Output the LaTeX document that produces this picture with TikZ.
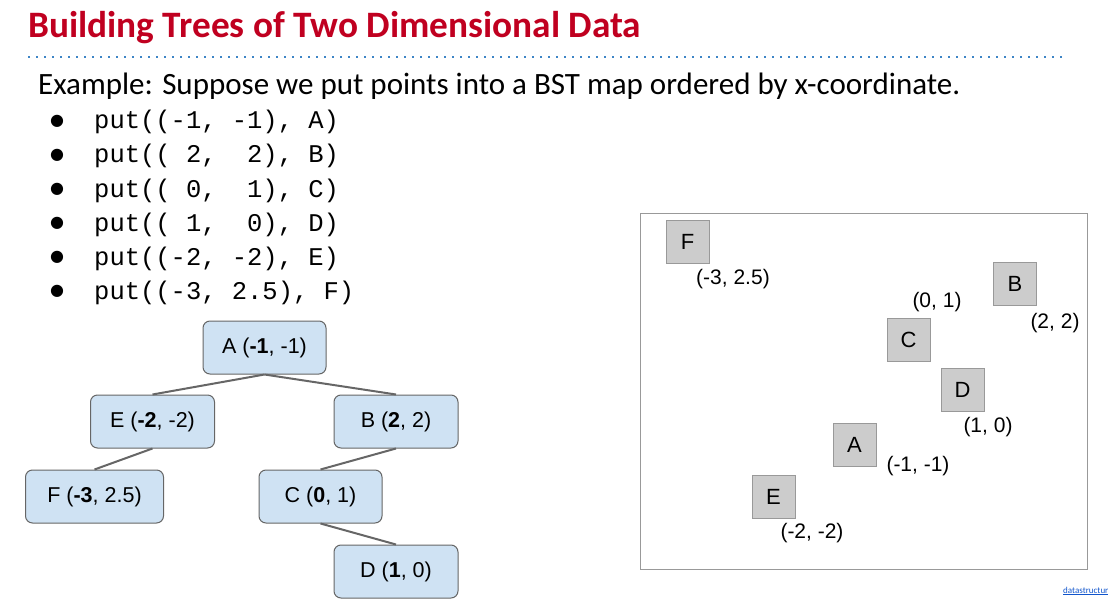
\documentclass[tikz,border=0pt]{standalone}
\usepackage{fontspec}
\setmainfont{Carlito}
\newfontfamily\arial{Liberation Sans}
\newfontfamily\mono{Liberation Mono}
\newfontfamily\dejavu{DejaVu Sans}
\definecolor{titlered}{RGB}{192,0,32}
\definecolor{dotblue}{RGB}{61,133,198}
\definecolor{treefill}{RGB}{207,226,243}
\definecolor{treeline}{RGB}{102,102,102}
\definecolor{sqfill}{RGB}{204,204,204}
\definecolor{sqline}{RGB}{153,153,153}
\definecolor{framegray}{RGB}{153,153,153}
\definecolor{linkblue}{RGB}{17,85,204}
\begin{document}
\begin{tikzpicture}[x=1pt,y=-1pt,
  treenode/.style={draw=treeline,fill=treefill,rounded corners=7pt,line width=1pt,
    minimum height=53pt,inner sep=0pt,font=\arial\fontsize{21.5}{25}\selectfont},
  treeedge/.style={draw=treeline,line width=2pt},
  sq/.style={draw=sqline,fill=sqfill,line width=1pt,minimum width=43pt,minimum height=43pt,
    inner sep=0pt,font=\arial\fontsize{22}{26}\selectfont},
  coord/.style={inner sep=0pt,font=\arial\fontsize{21}{25}\selectfont},
  bulletdot/.style={inner sep=0pt,font=\dejavu\fontsize{16}{18}\selectfont},
  codeline/.style={anchor=base west,inner sep=0pt,font=\mono\fontsize{25.5}{28}\selectfont}]
\useasboundingbox (0,0) rectangle (1109,599);
% title
\node[anchor=base west,inner sep=0pt,text=titlered,font=\bfseries\fontsize{37.3}{42}\selectfont] (title) at (28,38) {Building Trees of Two Dimensional Data};
\coordinate (dl) at (28,57);
\coordinate (dr) at (1062,57);
\draw[dotblue,line width=2pt,dash pattern=on 2pt off 6pt] (dl) -- (dr);
\node[anchor=base west,inner sep=0pt,font=\fontsize{31}{34}\selectfont] (ex) at (38,95) {Example: Suppose we put points into a BST map ordered by x-coordinate.};
% bullets
\node[bulletdot] (b0) at (57,121) {●};
\node[bulletdot] (b1) at (57,155) {●};
\node[bulletdot] (b2) at (57,189) {●};
\node[bulletdot] (b3) at (57,223) {●};
\node[bulletdot] (b4) at (57,257) {●};
\node[bulletdot] (b5) at (57,291) {●};
\node[codeline] (c0) at (94,129) {put((-1,\ -1),\ A)};
\node[codeline] (c1) at (94,163) {put((\ 2,\ \ 2),\ B)};
\node[codeline] (c2) at (94,197) {put((\ 0,\ \ 1),\ C)};
\node[codeline] (c3) at (94,231) {put((\ 1,\ \ 0),\ D)};
\node[codeline] (c4) at (94,265) {put((-2,\ -2),\ E)};
\node[codeline] (c5) at (94,299) {put((-3,\ 2.5),\ F)};
% tree
\node[treenode,minimum width=123pt] (A) at (264.5,347.5) {A (\textbf{-1}, -1)};
\node[treenode,minimum width=124pt] (E) at (152.5,421.5) {E (\textbf{-2}, -2)};
\node[treenode,minimum width=124pt] (B) at (396,421.5) {B (\textbf{2}, 2)};
\node[treenode,minimum width=138pt] (F) at (94.5,496.5) {F (\textbf{-3}, 2.5)};
\node[treenode,minimum width=123pt] (C) at (320.5,496.5) {C (\textbf{0}, 1)};
\node[treenode,minimum width=124pt] (D) at (396,571.5) {D (\textbf{1}, 0)};
\draw[treeedge] (A.south) -- (E.north);
\draw[treeedge] (A.south) -- (B.north);
\draw[treeedge] (E.south) -- (F.north);
\draw[treeedge] (B.south) -- (C.north);
\draw[treeedge] (C.south) -- (D.north);
% plane
\node[draw=framegray,line width=1pt,minimum width=447pt,minimum height=356pt,inner sep=0pt] (frame) at (863.5,391) {};
\node[sq] (pF) at (687.5,241.5) {F};
\node[sq] (pB) at (1015,283.5) {B};
\node[sq] (pC) at (908.5,339.5) {C};
\node[sq] (pD) at (962.5,389.5) {D};
\node[sq] (pA) at (854.5,444.5) {A};
\node[sq] (pE) at (773.5,496.5) {E};
\node[coord] (lF) at (733,279) {(-3, 2.5)};
\node[coord] (lC) at (937,302) {(0, 1)};
\node[coord] (lB) at (1055,323) {(2, 2)};
\node[coord] (lD) at (988,427) {(1, 0)};
\node[coord] (lA) at (918,466) {(-1, -1)};
\node[coord] (lE) at (812,533) {(-2, -2)};
% footer link
\node[anchor=base west,inner sep=0pt,text=linkblue,font=\fontsize{9}{10}\selectfont] (link) at (1063,593) {\underline{datastructur}};
\end{tikzpicture}
\end{document}
